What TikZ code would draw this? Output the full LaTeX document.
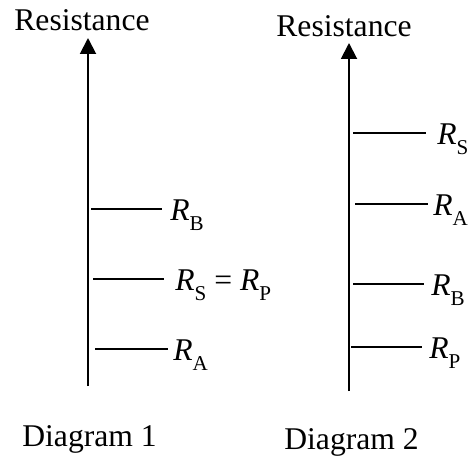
\documentclass[tikz,border=0pt]{standalone}
\usepackage{fontspec}
\setmainfont{Liberation Serif}
\usepackage{tikz}
\usetikzlibrary{arrows.meta}
\newcommand{\Rsub}[1]{\textit{R}\raisebox{-0.34em}{\fontsize{12}{12}\selectfont #1}}
\tikzset{
  axis-line/.style={line width=1.1pt,-{Triangle[length=3.2mm,width=3.2mm]}},
  level-line/.style={line width=0.85pt},
  axis-title/.style={anchor=base,inner sep=0pt,font=\fontsize{18}{20}\selectfont},
  level-label/.style={anchor=base west,inner sep=0pt,font=\fontsize{18}{20}\selectfont},
  diagram-name/.style={anchor=base west,inner sep=0pt,font=\fontsize{18}{20}\selectfont},
}

\begin{document}
\begin{tikzpicture}[x=0.02cm,y=-0.02cm]
  \useasboundingbox (0,0) rectangle (475,456);
  % Diagram 1
  \coordinate (ax1-bot) at (88,386);
  \coordinate (ax1-top) at (88,38);
  \node[axis-title] (title1) at (82,31) {Resistance};
  \draw[axis-line] (ax1-bot) -- (ax1-top);
  \coordinate (rb1-l) at (91,209);  \coordinate (rb1-r) at (162,209);
  \coordinate (rsp1-l) at (93,279); \coordinate (rsp1-r) at (164,279);
  \coordinate (ra1-l) at (95,349);  \coordinate (ra1-r) at (168,349);
  \draw[level-line] (rb1-l) -- (rb1-r);
  \draw[level-line] (rsp1-l) -- (rsp1-r);
  \draw[level-line] (ra1-l) -- (ra1-r);
  \node[level-label] (lb1) at (170,220) {\Rsub{B}};
  \node[level-label] (lsp1) at (175,290) {\Rsub{S} = \Rsub{P}};
  \node[level-label] (la1) at (173,360) {\Rsub{A}};
  \node[diagram-name] (name1) at (22,446) {Diagram 1};
  % Diagram 2
  \coordinate (ax2-bot) at (349,391);
  \coordinate (ax2-top) at (349,43);
  \node[axis-title] (title2) at (344,37) {Resistance};
  \draw[axis-line] (ax2-bot) -- (ax2-top);
  \coordinate (rs2-l) at (353,133); \coordinate (rs2-r) at (426,133);
  \coordinate (ra2-l) at (355,204); \coordinate (ra2-r) at (428,204);
  \coordinate (rb2-l) at (353,284); \coordinate (rb2-r) at (424,284);
  \coordinate (rp2-l) at (351,347); \coordinate (rp2-r) at (422,347);
  \draw[level-line] (rs2-l) -- (rs2-r);
  \draw[level-line] (ra2-l) -- (ra2-r);
  \draw[level-line] (rb2-l) -- (rb2-r);
  \draw[level-line] (rp2-l) -- (rp2-r);
  \node[level-label] (ls2) at (437,144) {\Rsub{S}};
  \node[level-label] (la2) at (433,215) {\Rsub{A}};
  \node[level-label] (lb2) at (431,295) {\Rsub{B}};
  \node[level-label] (lp2) at (429,358) {\Rsub{P}};
  \node[diagram-name] (name2) at (284,449) {Diagram 2};
\end{tikzpicture}
\end{document}
